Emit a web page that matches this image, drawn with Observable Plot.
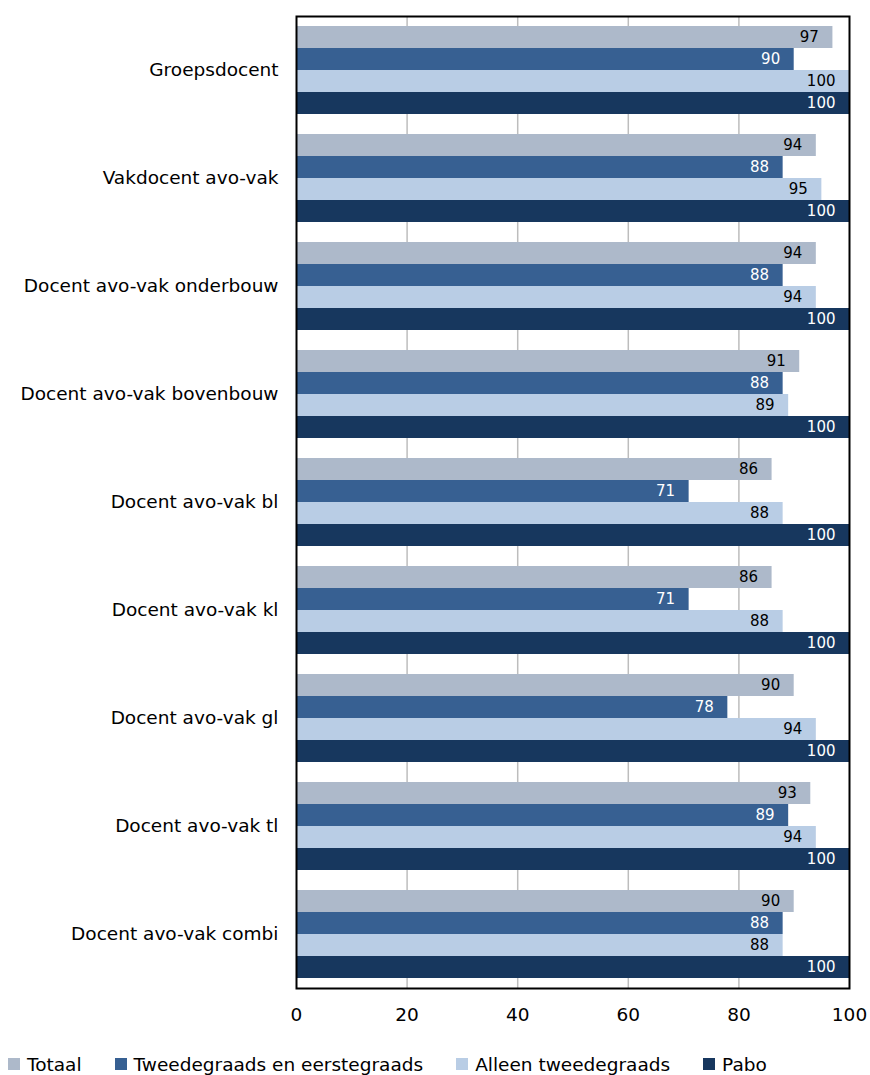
<!DOCTYPE html>
<html>
<head>
<meta charset="utf-8">
<script src="https://cdn.jsdelivr.net/npm/d3@7"></script>
<script src="https://cdn.jsdelivr.net/npm/@observablehq/plot@0.6"></script>
<style>
  html, body { margin: 0; padding: 0; background: #fff; }
  body { width: 870px; height: 1075px; overflow: hidden; font-family: "DejaVu Sans", Verdana, sans-serif; }
  #legend { display: flex; align-items: center; height: 22px; padding-top: 8px; padding-left: 8px; font-size: 18.5px; color: #000; }
  #legend .item { display: flex; align-items: center; margin-right: 33px; }
  #legend .sw { width: 12px; height: 12px; margin-right: 7px; }
</style>
</head>
<body>
<div id="chart"></div>
<div id="legend"></div>
<script>
const categories = [
  "Groepsdocent",
  "Vakdocent avo-vak",
  "Docent avo-vak onderbouw",
  "Docent avo-vak bovenbouw",
  "Docent avo-vak bl",
  "Docent avo-vak kl",
  "Docent avo-vak gl",
  "Docent avo-vak tl",
  "Docent avo-vak combi"
];
const seriesNames = ["Totaal", "Tweedegraads en eerstegraads", "Alleen tweedegraads", "Pabo"];
const seriesColors = ["#adb9ca", "#376092", "#b9cde5", "#17375e"];
const labelColors = ["#000000", "#ffffff", "#000000", "#ffffff"];
const totaal   = [97, 94, 94, 91, 86, 86, 90, 93, 90];
const tweede   = [90, 88, 88, 88, 71, 71, 78, 89, 88];
const alleen   = [100, 95, 94, 89, 88, 88, 94, 94, 88];
const pabo     = [100, 100, 100, 100, 100, 100, 100, 100, 100];
const xTicks = [0, 20, 40, 60, 80, 100];
const gridTicks = [20, 40, 60, 80];

const seriesValues = [totaal, tweede, alleen, pabo];
const rows = [];
categories.forEach((c, i) => {
  seriesNames.forEach((s, j) => {
    rows.push({cat: c, series: s, value: seriesValues[j][i], labelColor: labelColors[j]});
  });
});

const chart = Plot.plot({
  width: 870,
  height: 1045,
  marginTop: 13,
  marginBottom: 55,
  marginLeft: 296,
  marginRight: 21,
  style: {fontFamily: "DejaVu Sans, Verdana, sans-serif", fontSize: "18.5px", color: "#000", background: "#fff"},
  x: {domain: [0, 100]},
  y: {domain: seriesNames, paddingInner: 0, paddingOuter: 0.4, axis: null},
  fy: {domain: categories, padding: 0},
  color: {domain: seriesNames, range: seriesColors},
  marks: [
    Plot.gridX(gridTicks, {stroke: "#bdbdbd", strokeOpacity: 1, strokeWidth: 1.5}),
    Plot.barX(rows, {x: "value", y: "series", fy: "cat", fill: "series", inset: 0}),
    Plot.text(rows, {x: "value", y: "series", fy: "cat", text: d => String(d.value), textAnchor: "end", dx: -14, fill: "labelColor", fontSize: 15}),
    Plot.axisX({ticks: xTicks, tickSize: 0, tickPadding: 19, label: null, fontSize: 18.5}),
    Plot.axisFy({anchor: "left", tickSize: 0, tickPadding: 18, label: null, fontSize: 18.5}),
    Plot.frame({facet: "super", stroke: "#000", strokeWidth: 2})
  ]
});
document.getElementById("chart").appendChild(chart);

const legend = document.getElementById("legend");
seriesNames.forEach((s, j) => {
  const item = document.createElement("div");
  item.className = "item";
  const sw = document.createElement("span");
  sw.className = "sw";
  sw.style.background = seriesColors[j];
  const t = document.createElement("span");
  t.textContent = s;
  item.appendChild(sw);
  item.appendChild(t);
  legend.appendChild(item);
});
</script>
</body>
</html>
